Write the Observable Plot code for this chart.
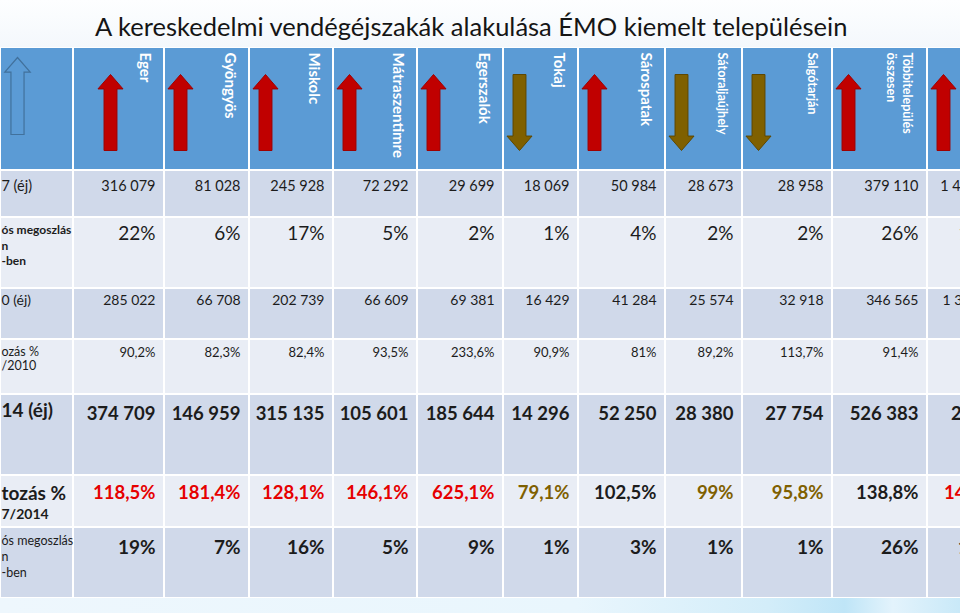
<!DOCTYPE html>
<html><head><meta charset="utf-8">
<script src="https://cdn.jsdelivr.net/npm/d3@7"></script>
<script src="https://cdn.jsdelivr.net/npm/@observablehq/plot@0.6"></script>
<style>
html,body{margin:0;padding:0;background:#fff;overflow:hidden;width:960px;height:613px;font-family:Lato, sans-serif}
#title{position:relative;height:47px;background:linear-gradient(to bottom,#fdfeff,#f4f8fc)}
#title span{position:absolute;left:95px;top:14px;font-size:26px;white-space:nowrap;color:#151515;line-height:1}
#chart{position:relative;height:566px}
#strip{position:absolute;left:0;right:0;top:551px;height:15px;background:linear-gradient(to right,#eef7fd 0%,#e9f6fd 60%,#d3edf9 80%,#bfe5f7 88%,#e3f3fc 93%,#c9e9f8 100%)}
#chart svg{position:absolute;left:0;top:0}
</style></head><body>
<div id="title"><span id="ttl"></span></div>
<div id="chart"><div id="strip"></div></div>
<script>
// ---------- data ----------
const titleText = "A kereskedelmi vendégéjszakák alakulása ÉMO kiemelt településein";
const cities = ["Eger","Gyöngyös","Miskolc","Mátraszentimre","Egerszalók","Tokaj","Sárospatak","Sátoraljaújhely","Salgótarján","Többitelepülés\nösszesen",""];
const trend = ["up","up","up","up","up","down","up","down","down","up","up"];
const rowLabels = ["7 (éj)", "ós megoszlás\nn\n-ben", "0 (éj)", "ozás %\n/2010", "14 (éj)", "tozás %\n7/2014", "ós megoszlás\nn\n-ben"];
const nights2007 = [316079, 81028, 245928, 72292, 29699, 18069, 50984, 28673, 28958, 379110, 1436120];
const share2007  = [22, 6, 17, 5, 2, 1, 4, 2, 2, 26, 100];
const nights2010 = [285022, 66708, 202739, 66609, 69381, 16429, 41284, 25574, 32918, 346565, 1305874];
const change2010 = [90.2, 82.3, 82.4, 93.5, 233.6, 90.9, 81, 89.2, 113.7, 91.4, 90.9];
const nights2014 = [374709, 146959, 315135, 105601, 185644, 14296, 52250, 28380, 27754, 526383, 2015500];
const change2014 = [118.5, 181.4, 128.1, 146.1, 625.1, 79.1, 102.5, 99, 95.8, 138.8, 140.3];
const share2014  = [19, 7, 16, 5, 9, 1, 3, 1, 1, 26, 100];
const changeTone = ["rise","rise","rise","rise","rise","fall","plain","fall","fall","plain","rise"];

// ---------- layout (scale configuration) ----------
const colEdges = [0,73,164,249,333,417,503,578,665,742,832,927,1015];
const rowEdges = [0,123,170,241,292,347,428,480,551];
const colPos = d3.scaleLinear().domain(d3.range(colEdges.length)).range(colEdges);
const rowPos = d3.scaleLinear().domain(d3.range(rowEdges.length)).range(rowEdges);
const FONT = "Lato, sans-serif";
const C = {header:"#5B9BD5", dark:"#D0D9EA", light:"#E9EDF5", red:"#C00000", redEdge:"#9E0000",
           brown:"#7F6000", brownEdge:"#5E4700", outline:"#41719C", txt:"#1c1c1c", rise:"#E60000"};

const loc = d3.formatLocale({decimal:",", thousands:" ", grouping:[3], currency:["",""]});
const fmtInt = loc.format(",d");
// the wide total cell wraps at its last group, as in the reference table
const fmtIntWrapped = v => { const s = fmtInt(v), k = s.lastIndexOf(" "); return s.slice(0, k) + "\n" + s.slice(k + 1); };
const fmtPct = v => (Number.isInteger(v) ? String(v) : v.toFixed(1).replace(".", ",")) + "%";

document.getElementById("ttl").textContent = titleText;

function blockArrow(s) { // s=-1 up, s=1 down
  return {draw(ctx, size) {
    const h = Math.sqrt(size / Math.PI);
    const hw = h * 0.33, sw = h * 0.17, hl = h * 0.38;
    ctx.moveTo(0, s * h);
    ctx.lineTo(hw, s * (h - hl));
    ctx.lineTo(sw, s * (h - hl));
    ctx.lineTo(sw, -s * h);
    ctx.lineTo(-sw, -s * h);
    ctx.lineTo(-sw, s * (h - hl));
    ctx.lineTo(-hw, s * (h - hl));
    ctx.closePath();
  }};
}
const UP = blockArrow(-1), DOWN = blockArrow(1);

const idx = d3.range(cities.length);
const lastCol = cities.length - 1;
const grid = d3.range(8).flatMap(r => d3.range(12).map(c => ({r, c})));
const cellRect = (filter, fill) => Plot.rect(grid.filter(filter), {
  x1: "c", x2: d => d.c + 1, y1: "r", y2: d => d.r + 1, fill, inset: 1
});

const smallNames = new Set(["Sátoraljaújhely", "Salgótarján", "Többitelepülés\nösszesen"]);
const nameMark = (ids, fontSize, lineHeight, dx) => Plot.text(ids, {
  x: i => i + 2, y: 0, text: i => cities[i], rotate: 90, textAnchor: "start", lineAnchor: "top",
  dx, dy: 5, fill: "white", fontSize, fontWeight: "bold", fontFamily: FONT, lineHeight
});

const valueMark = (row, values, fmt, opts, filt = () => true) => Plot.text(idx.filter(filt), {
  x: i => i + 2, y: row, text: i => fmt(values[i]), textAnchor: "end", lineAnchor: "middle",
  dx: -9, fill: C.txt, fontFamily: FONT, ...opts
});

const labelMark = (row, text, opts) => Plot.text([text], {
  x: 0, y: row, text: d => d, textAnchor: "start", dx: 1, fill: C.txt, fontFamily: FONT, ...opts
});

const arrowMark = (ids, symbol, fill, stroke, dx) => Plot.dot(ids, {
  x: i => i + 1, y: 0.5, dx, dy: 3.5, r: 38, symbol, fill, stroke, strokeWidth: 1
});

const row6Parts = rowLabels[5].split("\n");
const row5Style = {dy: 9.5, fontSize: 18.5, fontWeight: "bold", lineAnchor: "top", lineHeight: 1.2};

const chart = Plot.plot({
  width: 960, height: 566, margin: 0,
  style: {background: "transparent", fontFamily: FONT},
  x: {domain: [0, 960], range: [0, 960], transform: colPos, axis: null},
  y: {domain: [0, 566], range: [0, 566], transform: rowPos, axis: null},
  marks: [
    cellRect(d => d.r === 0, C.header),
    cellRect(d => d.r % 2 === 1, C.dark),
    cellRect(d => d.r > 0 && d.r % 2 === 0, C.light),
    // outline arrow in the label column
    Plot.dot([0], {x: 0, y: 0.5, dx: 17, dy: -13, r: 38.5, symbol: UP, fill: C.header, stroke: C.outline, strokeWidth: 1.2}),
    arrowMark(idx.filter(i => i === 0 && trend[i] === "up"), UP, C.red, C.redEdge, 37),
    arrowMark(idx.filter(i => i > 0 && trend[i] === "up"), UP, C.red, C.redEdge, 16),
    arrowMark(idx.filter(i => trend[i] === "down"), DOWN, C.brown, C.brownEdge, 16),
    nameMark(idx.filter(i => cities[i] && !smallNames.has(cities[i])), 15, 1.2, -12),
    nameMark(idx.filter(i => cities[i] && smallNames.has(cities[i])), 12.5, 1.28, -13),
    // row labels
    labelMark(1, rowLabels[0], {dy: 16, fontSize: 14.5, lineAnchor: "middle"}),
    labelMark(2, rowLabels[1], {dy: 5.5, fontSize: 12, fontWeight: "bold", lineAnchor: "top", lineHeight: 1.3}),
    labelMark(3, rowLabels[2], {dy: 12, fontSize: 14, lineAnchor: "middle"}),
    labelMark(4, rowLabels[3], {dy: 7, fontSize: 12.5, lineAnchor: "top", lineHeight: 1.12}),
    labelMark(5, rowLabels[4], {dy: 16, fontSize: 19, fontWeight: "bold", lineAnchor: "middle"}),
    labelMark(6, row6Parts[0], {dy: 18, fontSize: 19, fontWeight: "bold", lineAnchor: "middle"}),
    labelMark(6, row6Parts[1], {dy: 39, fontSize: 14, fontWeight: "bold", lineAnchor: "middle"}),
    labelMark(7, rowLabels[6], {dy: 6.5, fontSize: 12.5, lineAnchor: "top", lineHeight: 1.28}),
    // values
    valueMark(1, nights2007, fmtInt, {dy: 16, fontSize: 14.5}),
    valueMark(2, share2007, fmtPct, {dy: 16, fontSize: 19}),
    valueMark(3, nights2010, fmtInt, {dy: 12, fontSize: 14}),
    valueMark(4, change2010, fmtPct, {dy: 13, fontSize: 13}),
    valueMark(5, nights2014, fmtInt, row5Style, i => i < lastCol),
    valueMark(5, nights2014, fmtIntWrapped, {...row5Style, dx: -17}, i => i === lastCol),
    valueMark(6, change2014, fmtPct, {dy: 18, fontSize: 18.5, fontWeight: "bold", fill: C.rise}, i => changeTone[i] === "rise"),
    valueMark(6, change2014, fmtPct, {dy: 18, fontSize: 18.5, fontWeight: "bold", fill: C.brown}, i => changeTone[i] === "fall"),
    valueMark(6, change2014, fmtPct, {dy: 18, fontSize: 18.5, fontWeight: "bold"}, i => changeTone[i] === "plain"),
    valueMark(7, share2014, fmtPct, {dy: 20, fontSize: 19, fontWeight: "bold"})
  ]
});
document.getElementById("chart").appendChild(chart);

// fit title to its width in the reference
const sp = document.getElementById("ttl");
const w = sp.getBoundingClientRect().width;
sp.style.fontSize = (26 * 753 / w) + "px";
</script></body></html>
